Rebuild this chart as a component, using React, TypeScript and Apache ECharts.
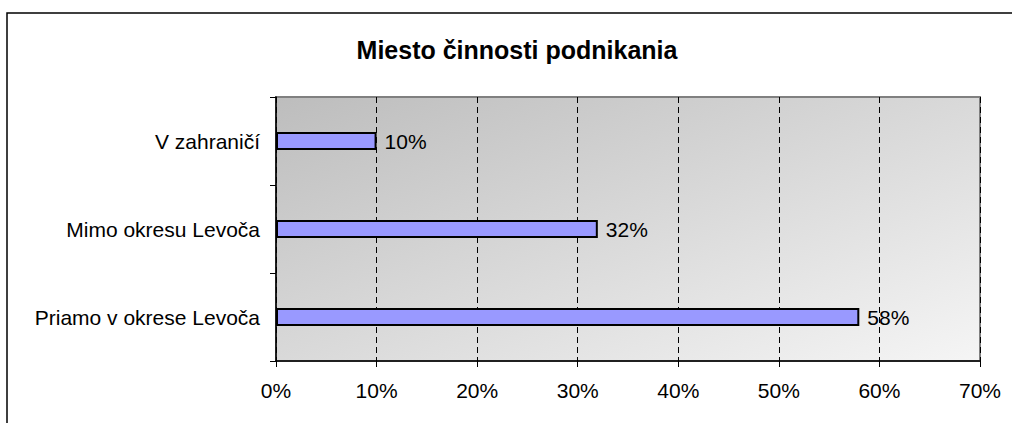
import React, { useEffect, useRef } from "react";
import * as echarts from "echarts";

const title = "Miesto činnosti podnikania";
const categories = ["Priamo v okrese Levoča", "Mimo okresu Levoča", "V zahraničí"];
const values = [58, 32, 10];
const xTicks = [0, 10, 20, 30, 40, 50, 60, 70];

export default function App() {
  const ref = useRef<HTMLDivElement>(null);
  useEffect(() => {
    if (!ref.current) return;
    const chart = echarts.init(ref.current, null, { renderer: "svg" });
    const font = "Liberation Sans, Arial, sans-serif";
    chart.setOption({
      animation: false,
      backgroundColor: "#ffffff",
      title: {
        text: title,
        left: 512,
        textAlign: "center",
        top: 32,
        textStyle: { fontFamily: font, fontSize: 25, fontWeight: "bold", color: "#000" },
      },
      graphic: [
        {
          type: "rect",
          shape: { x: 7, y: 13, width: 1100, height: 500 },
          style: { fill: "none", stroke: "#000", lineWidth: 1.5 },
          silent: true,
          z: 100,
        },
      ],
      grid: {
        left: 276,
        right: 32,
        top: 97,
        bottom: 62,
        show: true,
        borderColor: "#808080",
        borderWidth: 2,
        backgroundColor: {
          type: "linear",
          x: 0,
          y: 0,
          x2: 1,
          y2: 1,
          colorStops: [
            { offset: 0, color: "#bdbdbd" },
            { offset: 1, color: "#f5f5f5" },
          ],
        },
      },
      xAxis: {
        type: "value",
        min: xTicks[0],
        max: xTicks[xTicks.length - 1],
        interval: 10,
        axisLine: { show: true, lineStyle: { color: "#000", width: 1.5 } },
        axisTick: { show: true, length: 6, lineStyle: { color: "#000" } },
        axisLabel: {
          formatter: (v: number) => v + "%",
          fontFamily: font,
          fontSize: 21,
          color: "#000",
          margin: 19,
        },
        splitLine: { show: true, lineStyle: { color: "#000", type: [6, 4], width: 1 } },
      },
      yAxis: {
        type: "category",
        data: categories,
        axisLine: { show: true, lineStyle: { color: "#000", width: 1.5 } },
        axisTick: { show: true, length: 6, lineStyle: { color: "#000" } },
        axisLabel: { fontFamily: font, fontSize: 21, color: "#000", margin: 16 },
        splitLine: { show: false },
      },
      series: [
        {
          type: "bar",
          data: values,
          barWidth: 18,
          itemStyle: { color: "#9999ff", borderColor: "#000", borderWidth: 2 },
          label: {
            show: true,
            position: "right",
            distance: 8,
            formatter: (p: any) => p.value + "%",
            fontFamily: font,
            fontSize: 21,
            color: "#000",
          },
        },
      ],
    });
    return () => chart.dispose();
  }, []);
  return (
    <div
      ref={ref}
      style={{ position: "fixed", left: 0, top: 0, width: 1012, height: 423 }}
    />
  );
}
